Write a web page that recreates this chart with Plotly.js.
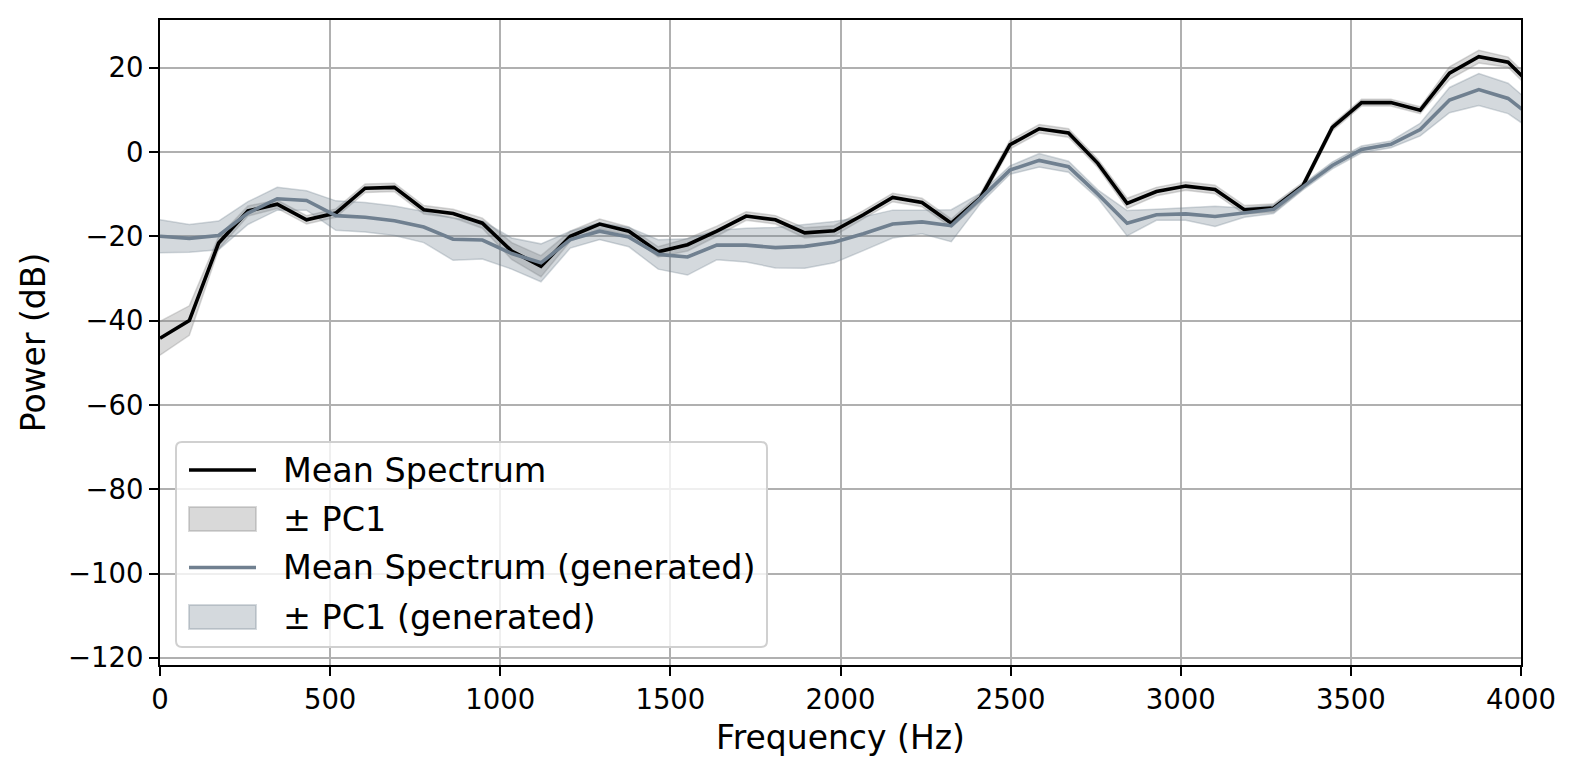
<!DOCTYPE html>
<html>
<head>
<meta charset="utf-8">
<script src="https://cdn.plot.ly/plotly-3.0.1.min.js"></script>
<style>
  html, body { margin: 0; padding: 0; background: #ffffff; }
  #chart { width: 1577px; height: 776px; }
</style>
</head>
<body>
<div id="chart"></div>
<script>
// FFT bin centre frequencies (Hz)
const freqHz = [0, 86.13, 172.27, 258.40, 344.53, 430.66, 516.80, 602.93, 689.06, 775.20,
  861.33, 947.46, 1033.59, 1119.73, 1205.86, 1291.99, 1378.13, 1464.26, 1550.39, 1636.52,
  1722.66, 1808.79, 1894.92, 1981.05, 2067.19, 2153.32, 2239.45, 2325.59, 2411.72, 2497.85,
  2583.98, 2670.12, 2756.25, 2842.38, 2928.52, 3014.65, 3100.78, 3186.91, 3273.05, 3359.18,
  3445.31, 3531.45, 3617.58, 3703.71, 3789.84, 3875.98, 3962.11, 4048.24];

// Mean power spectrum of the recorded set (dB)
const meanReal = [-44.2, -40.0, -21.6, -14.0, -12.4, -16.1, -14.5, -8.6, -8.4, -13.7,
  -14.6, -16.9, -23.5, -27.1, -20.0, -17.1, -18.8, -23.7, -22.0, -18.8,
  -15.2, -16.1, -19.2, -18.7, -14.9, -10.8, -12.0, -16.9, -10.8, 1.7,
  5.5, 4.5, -2.7, -12.2, -9.4, -8.1, -8.9, -13.7, -13.3, -8.0,
  5.8, 11.7, 11.7, 9.9, 18.7, 22.6, 21.3, 14.4];

// First principal component spread around the mean (dB)
const pc1Real = [4.0, 3.5, 1.5, 1.2, 1.0, 1.0, 1.0, 1.0, 1.0, 1.0,
  1.0, 1.2, 2.0, 2.5, 1.2, 1.2, 1.0, 1.2, 1.5, 1.2,
  1.0, 1.0, 1.2, 1.2, 1.0, 1.0, 1.0, 1.0, 1.0, 1.0,
  1.0, 1.0, 1.0, 1.2, 1.0, 1.0, 1.0, 1.0, 1.0, 0.8,
  0.8, 0.8, 0.8, 0.8, 1.5, 1.5, 1.2, 1.2];

// Mean power spectrum of the generated set (dB)
const meanGen = [-20.0, -20.5, -19.8, -14.5, -11.1, -11.5, -15.1, -15.5, -16.3, -17.8,
  -20.7, -20.9, -24.1, -26.3, -20.8, -18.8, -20.2, -24.3, -24.9, -22.1,
  -22.1, -22.7, -22.4, -21.4, -19.4, -17.1, -16.6, -17.5, -11.0, -4.3,
  -2.0, -3.5, -10.0, -16.9, -14.9, -14.7, -15.3, -14.4, -13.6, -8.3,
  -3.2, 0.6, 1.8, 5.3, 12.3, 14.8, 12.7, 7.3];

// First principal component spread for the generated set (dB)
const pc1Gen = [3.9, 3.3, 3.4, 2.7, 2.7, 2.3, 3.5, 3.5, 3.5, 3.7,
  5.0, 4.5, 3.7, 4.5, 2.0, 2.0, 2.3, 3.5, 4.3, 3.5,
  4.0, 4.8, 5.2, 4.9, 4.0, 3.3, 2.8, 3.8, 1.2, 1.0,
  1.6, 1.3, 1.0, 3.0, 1.3, 1.5, 2.4, 1.1, 1.0, 0.7,
  0.8, 0.8, 0.8, 1.5, 3.0, 3.8, 3.6, 3.0];

const legendLabels = ['Mean Spectrum', '\u00b1 PC1', 'Mean Spectrum (generated)', '\u00b1 PC1 (generated)'];
const xTicks = [0, 500, 1000, 1500, 2000, 2500, 3000, 3500, 4000];
const yTicks = [-120, -100, -80, -60, -40, -20, 0, 20];

const FONT = 'DejaVu Sans, Liberation Sans, sans-serif';

const W = 1577, H = 776;
const M = { l: 160, r: 56, t: 20, b: 111 };
const plotW = W - M.l - M.r, plotH = H - M.t - M.b;
// pixel position -> paper fraction of the plotting area
const px = v => (v - M.l) / plotW;
const py = v => (H - M.b - v) / plotH;

const COL = {
  real: '#000000',
  gen: '#708090',
  realFill: 'rgba(128,128,128,0.3)',
  genFill: 'rgba(112,128,144,0.3)'
};

// closed polygon: mean + spread forward, mean - spread backward
function band(x, mean, spread) {
  const upper = mean.map((m, i) => m + spread[i]);
  const lower = mean.map((m, i) => m - spread[i]);
  return {
    x: x.concat(x.slice().reverse()),
    y: upper.concat(lower.slice().reverse())
  };
}

const bandReal = band(freqHz, meanReal, pc1Real);
const bandGen = band(freqHz, meanGen, pc1Gen);

// bands sit underneath the mean curves
const traces = [
  {
    x: bandReal.x, y: bandReal.y, type: 'scatter', mode: 'lines',
    fill: 'toself', fillcolor: COL.realFill,
    name: legendLabels[1],
    line: { color: COL.realFill, width: 1.5 },
    hoverinfo: 'skip'
  },
  {
    x: bandGen.x, y: bandGen.y, type: 'scatter', mode: 'lines',
    fill: 'toself', fillcolor: COL.genFill,
    name: legendLabels[3],
    line: { color: COL.genFill, width: 1.5 },
    hoverinfo: 'skip'
  },
  {
    x: freqHz, y: meanReal, type: 'scatter', mode: 'lines',
    name: legendLabels[0],
    line: { color: COL.real, width: 3.6 },
    hoverinfo: 'skip'
  },
  {
    x: freqHz, y: meanGen, type: 'scatter', mode: 'lines',
    name: legendLabels[2],
    line: { color: COL.gen, width: 3.6 },
    hoverinfo: 'skip'
  }
];

// legend box in the lower-left corner, with wide line handles and patch swatches
const LEG = { left: 176, right: 767, top: 442, bottom: 647, r: 6 };
const handleX0 = 189, handleX1 = 256, textX = 281;
const rowY = [470, 519, 567.5, 617];
const kinds = ['line', 'patch', 'line', 'patch'];
const handleColors = [COL.real, COL.realFill, COL.gen, COL.genFill];

function roundedRect(x0, y0, x1, y1, r) {
  const X0 = px(x0), X1 = px(x1), Y0 = py(y0), Y1 = py(y1);
  const rx = r / plotW, ry = r / plotH;
  return `M${X0 + rx},${Y0} L${X1 - rx},${Y0} Q${X1},${Y0} ${X1},${Y0 - ry} ` +
    `L${X1},${Y1 + ry} Q${X1},${Y1} ${X1 - rx},${Y1} L${X0 + rx},${Y1} ` +
    `Q${X0},${Y1} ${X0},${Y1 + ry} L${X0},${Y0 - ry} Q${X0},${Y0} ${X0 + rx},${Y0} Z`;
}

const shapes = [{
  type: 'path', xref: 'paper', yref: 'paper', layer: 'above',
  path: roundedRect(LEG.left, LEG.top, LEG.right, LEG.bottom, LEG.r),
  fillcolor: 'rgba(255,255,255,0.8)',
  line: { color: '#d0d0d0', width: 2 }
}];
const annotations = [];

legendLabels.forEach((label, i) => {
  const cy = rowY[i];
  if (kinds[i] === 'line') {
    shapes.push({
      type: 'line', xref: 'paper', yref: 'paper', layer: 'above',
      x0: px(handleX0), x1: px(handleX1), y0: py(cy), y1: py(cy),
      line: { color: handleColors[i], width: 3.6 }
    });
  } else {
    shapes.push({
      type: 'rect', xref: 'paper', yref: 'paper', layer: 'above',
      x0: px(handleX0), x1: px(handleX1), y0: py(cy - 12), y1: py(cy + 12),
      fillcolor: handleColors[i],
      line: { color: handleColors[i], width: 2 }
    });
  }
  annotations.push({
    xref: 'paper', yref: 'paper', x: px(textX), y: py(cy),
    xanchor: 'left', yanchor: 'middle', showarrow: false,
    text: label,
    font: { family: FONT, size: 33.4, color: '#000000' }
  });
});

const axisCommon = {
  showline: true, mirror: true, linecolor: '#000000', linewidth: 2,
  showgrid: true, gridcolor: '#b0b0b0', gridwidth: 2,
  zeroline: false,
  ticks: 'outside', ticklen: 9, tickwidth: 2, tickcolor: '#000000',
  tickfont: { family: FONT, size: 27.5, color: '#000000' }
};

const layout = {
  width: W, height: H,
  margin: M,
  paper_bgcolor: '#ffffff', plot_bgcolor: '#ffffff',
  font: { family: FONT, color: '#000000' },
  showlegend: false,
  shapes: shapes,
  annotations: annotations,
  xaxis: Object.assign({}, axisCommon, {
    range: [0, 4000], tickmode: 'array', tickvals: xTicks,
    title: { text: 'Frequency (Hz)', font: { family: FONT, size: 33, color: '#000000' }, standoff: 12 }
  }),
  yaxis: Object.assign({}, axisCommon, {
    range: [-121.7, 31.3], tickmode: 'array', tickvals: yTicks,
    title: { text: 'Power (dB)', font: { family: FONT, size: 33, color: '#000000' }, standoff: 12 }
  })
};

Plotly.newPlot('chart', traces, layout, { staticPlot: true, displayModeBar: false });
</script>
</body>
</html>
